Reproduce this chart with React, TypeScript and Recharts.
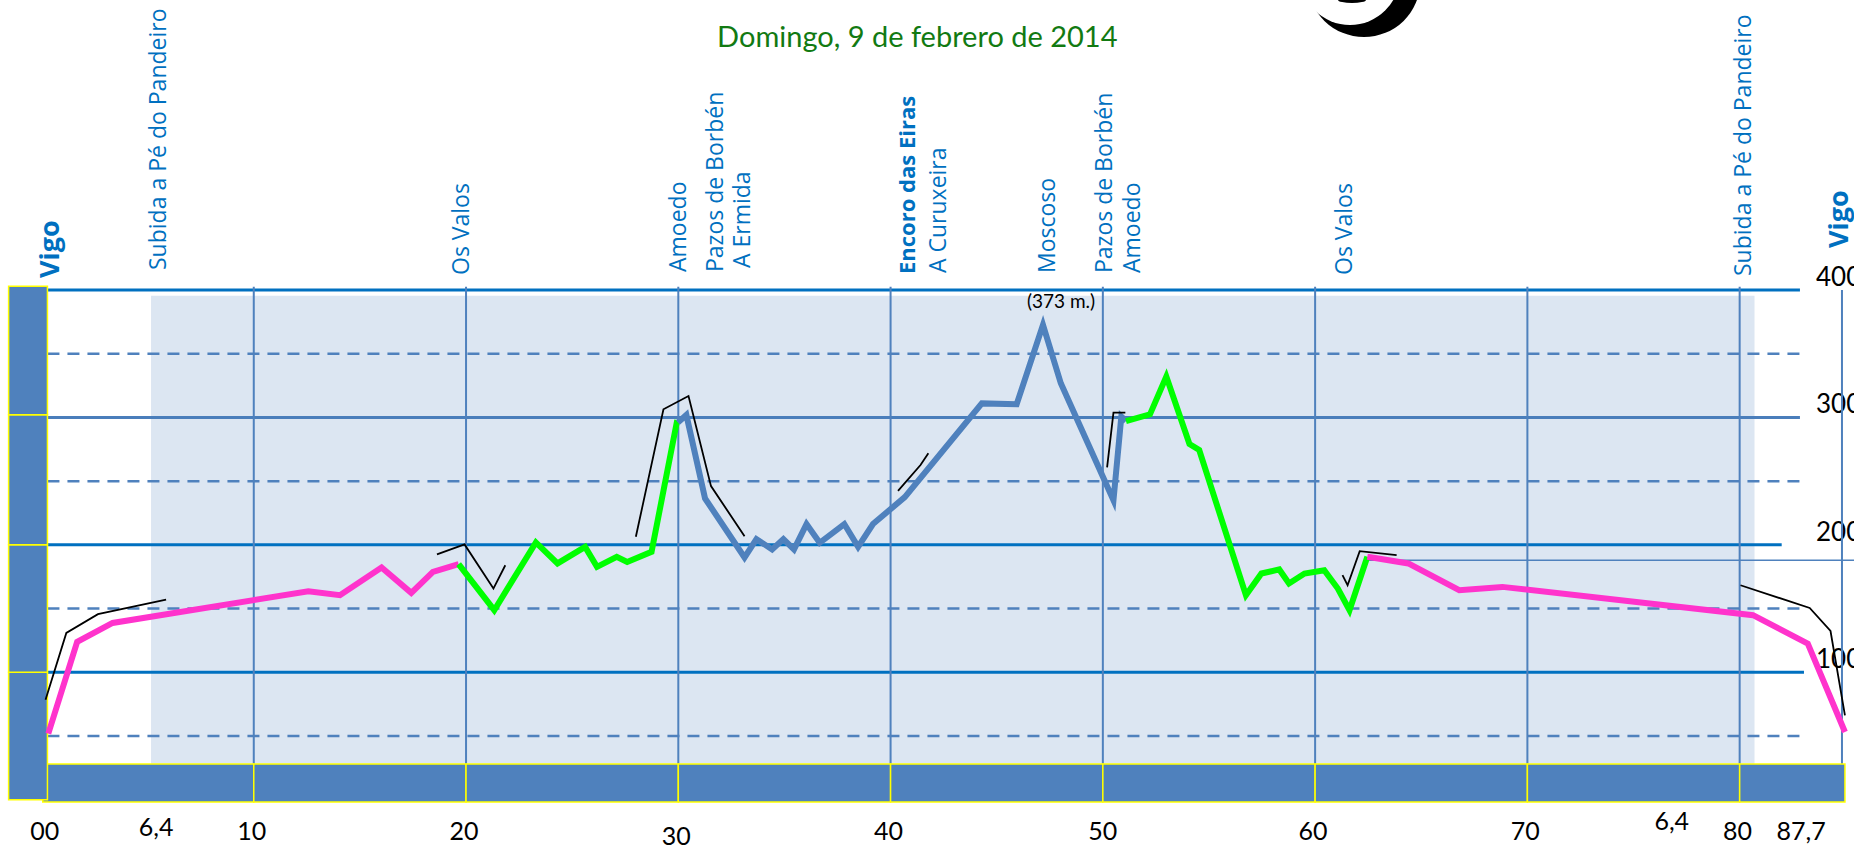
import React from 'react';
import { ComposedChart, Line, XAxis, YAxis, ReferenceLine, ReferenceArea, ReferenceDot } from 'recharts';

type P = { km: number; m: number };

// ---------- data ----------
const PINK_START: P[] = [
  { km: 0.32, m: 51.8 }, { km: 1.68, m: 123.8 }, { km: 3.35, m: 138.7 }, { km: 12.57, m: 163.6 },
  { km: 14.06, m: 160.5 }, { km: 16.02, m: 182.2 }, { km: 17.42, m: 162.3 }, { km: 18.44, m: 178.8 },
  { km: 19.65, m: 184.8 },
];
const GREEN_OUT: P[] = [
  { km: 19.65, m: 184.8 }, { km: 21.33, m: 148.7 }, { km: 23.29, m: 201.9 }, { km: 24.31, m: 185.4 },
  { km: 25.61, m: 198.4 }, { km: 26.17, m: 182.7 }, { km: 27.1, m: 190.6 }, { km: 27.59, m: 186.6 },
  { km: 28.74, m: 194.5 }, { km: 29.95, m: 298 },
];
const BLUE_MID: P[] = [
  { km: 29.98, m: 296 }, { km: 30.38, m: 301.9 }, { km: 31.26, m: 236.4 }, { km: 33.12, m: 190.1 },
  { km: 33.68, m: 204.5 }, { km: 34.42, m: 196.4 }, { km: 34.95, m: 204.5 }, { km: 35.45, m: 196.4 },
  { km: 36.04, m: 216.3 }, { km: 36.66, m: 201.6 }, { km: 37.82, m: 216.3 }, { km: 38.47, m: 198.4 },
  { km: 39.17, m: 216.3 }, { km: 40.67, m: 237.5 }, { km: 44.3, m: 311 }, { km: 45.94, m: 310.3 },
  { km: 47.18, m: 372.6 }, { km: 48.02, m: 326.8 }, { km: 50.5, m: 235 }, { km: 50.87, m: 300.6 },
  { km: 51.09, m: 297 },
];
const GREEN_BACK: P[] = [
  { km: 51.09, m: 297 }, { km: 52.22, m: 302.4 }, { km: 52.99, m: 332 }, { km: 54.08, m: 279.1 },
  { km: 54.54, m: 274.4 }, { km: 56.74, m: 160.5 }, { km: 57.47, m: 177.5 }, { km: 58.31, m: 180.7 },
  { km: 58.77, m: 169.7 }, { km: 59.5, m: 177.5 }, { km: 60.43, m: 180.1 }, { km: 61.07, m: 165.7 },
  { km: 61.62, m: 148.7 }, { km: 62.46, m: 190.6 },
];
const PINK_END: P[] = [
  { km: 62.46, m: 190.6 }, { km: 64.39, m: 185.4 }, { km: 66.79, m: 164.4 }, { km: 68.82, m: 167 },
  { km: 80.63, m: 144.8 }, { km: 83.21, m: 122.5 }, { km: 84.96, m: 53.1 },
];

const BLACK_1: P[] = [{ km: 0.19, m: 78.5 }, { km: 1.17, m: 130.9 }, { km: 2.66, m: 145.6 }, { km: 5.87, m: 157.1 }];
const BLACK_2: P[] = [{ km: 18.63, m: 192.5 }, { km: 19.93, m: 200.3 }, { km: 21.29, m: 165.7 }, { km: 21.85, m: 184 }];
const BLACK_3: P[] = [{ km: 28.0, m: 206.3 }, { km: 29.3, m: 306.4 }, { km: 30.48, m: 316.8 }, { km: 31.54, m: 246.1 }, { km: 33.12, m: 206.8 }];
const BLACK_4: P[] = [{ km: 40.35, m: 242.4 }, { km: 41.41, m: 262.6 }, { km: 41.78, m: 271.8 }];
const BLACK_5: P[] = [{ km: 50.2, m: 260.8 }, { km: 50.5, m: 303.7 }, { km: 51.06, m: 303.7 }];
const BLACK_6: P[] = [{ km: 61.29, m: 176.2 }, { km: 61.53, m: 168.3 }, { km: 62.1, m: 195 }, { km: 63.84, m: 191.9 }];
const BLACK_7: P[] = [{ km: 80.04, m: 168.3 }, { km: 83.3, m: 150.5 }, { km: 84.28, m: 132.4 }, { km: 84.96, m: 66.2 }];

const X_TICKS = [0.15, 5.4, 9.9, 19.9, 29.9, 39.9, 50, 59.9, 69.9, 76.8, 79.9, 82.9];
const X_LABELS = ['00', '6,4', '10', '20', '30', '40', '50', '60', '70', '6,4', '80', '87,7'];
const Y_SOLID = [400, 300, 200, 100];
const Y_DASHED = [350, 250, 150, 50];
const KM_GRID = [10, 20, 30, 40, 50, 60, 70, 80];
const BAR_EDGES = [0.06, 10, 20, 30, 40, 50, 60, 70, 80, 84.96];
const LEFT_BAR_EDGES = [0, 100, 200, 302, 403];

const PLACE_NAMES = ['Vigo', 'Subida a Pé do Pandeiro', 'Os Valos', 'Amoedo', 'Pazos de Borbén', 'A Ermida',
  'Encoro das Eiras', 'A Curuxeira', 'Moscoso', 'Pazos de Borbén', 'Amoedo', 'Os Valos', 'Subida a Pé do Pandeiro', 'Vigo'];
const PLACE_KM = [0.84, 5.87, 20.12, 30.38, 32.1, 33.4, 41.13, 42.62, 47.75, 50.45, 51.75, 61.72, 80.53, 85.1];
const TITLE = 'Domingo, 9 de febrero de 2014';
const PEAK_LABEL = '(373 m.)';

// ---------- layout ----------
const W = 1854, H = 846;
const X_MIN = -1.7, X_MAX = 85.2, Y_MIN = -3, Y_MAX = 405;
const PX_X0 = 41.5, PX_PER_KM = 21.227, PX_Y0 = 799.7, PX_PER_M = 1.2743;
const mLeft = PX_X0 + PX_PER_KM * X_MIN;
const mRight = W - (PX_X0 + PX_PER_KM * X_MAX);
const mTop = PX_Y0 - PX_PER_M * Y_MAX;
const plotBottom = PX_Y0 - PX_PER_M * Y_MIN;
const xAxisH = H - plotBottom;

const PINK = '#FF33CC', GREEN = '#00FF00', BLUE = '#4F81BD', STRONG = '#0070C0', YELLOW = '#FFFF00';
const LABEL_FONT = "'Open Sans', sans-serif";
const NUM_FONT = "Lato, sans-serif";

const PLACE_START_Y = [278, 270, 275, 272, 272, 268, 274, 273, 273, 273, 273, 275, 276, 248];

const placeLabel = (i: number) => (props: any) => {
  const vb = props.viewBox || {};
  const x = vb.x;
  const y = PLACE_START_Y[i];
  const name = PLACE_NAMES[i];
  const bold = name === 'Vigo' || name === 'Encoro das Eiras';
  const size = name === 'Vigo' ? 27 : bold ? 22 : 23;
  return (
    <text x={x} y={y} transform={`rotate(-90 ${x} ${y})`} fill={STRONG} fontFamily={LABEL_FONT}
      fontSize={size} fontWeight={bold ? 700 : 400}>{name}</text>
  );
};

const titleLabel = (props: any) => {
  const vb = props.viewBox || {};
  return (
    <g>
      <ellipse cx={1364} cy={-18} rx={56} ry={55} fill="#000" />
      <ellipse cx={1350} cy={-25} rx={50} ry={50} fill="#fff" />
      <ellipse cx={1352} cy={0} rx={14} ry={3} fill="#000" />
      <text x={vb.x} y={46.7} textAnchor="middle" fill="#127A12" fontFamily={NUM_FONT} fontSize={29}>{TITLE}</text>
    </g>
  );
};

const peakLabel = (props: any) => {
  const vb = props.viewBox || {};
  return <text x={vb.x} y={vb.y} textAnchor="middle" fill="#000" fontFamily={NUM_FONT} fontSize={19}>{PEAK_LABEL}</text>;
};

const yValueLabel = (v: number) => (props: any) => {
  const vb = props.viewBox || {};
  return <text x={1816} y={vb.y - 4} fill="#000" fontFamily={NUM_FONT} fontSize={26}>{v}</text>;
};

const XTick = (props: any) => {
  const { x, payload } = props;
  const i = X_TICKS.indexOf(payload.value);
  const shift = i === 1 ? -4 : i === 4 ? 5 : i === 9 ? -10 : 0;
  return <text x={x} y={840 + shift} textAnchor="middle" fontFamily={NUM_FONT} fontSize={25} fill="#000">{X_LABELS[i]}</text>;
};

const GRID_END: Record<number, number> = { 400: 82.84, 300: 82.84, 200: 81.98, 100: 83.03, 350: 82.84, 250: 82.93, 150: 82.84, 50: 83.03 };

const SERIES = [
  { key: 'pink1', data: PINK_START, color: PINK, width: 6 },
  { key: 'green1', data: GREEN_OUT, color: GREEN, width: 6 },
  { key: 'blue', data: BLUE_MID, color: BLUE, width: 6 },
  { key: 'green2', data: GREEN_BACK, color: GREEN, width: 6 },
  { key: 'pink2', data: PINK_END, color: PINK, width: 6 },
  { key: 'b1', data: BLACK_1, color: '#000', width: 1.8 },
  { key: 'b2', data: BLACK_2, color: '#000', width: 1.8 },
  { key: 'b3', data: BLACK_3, color: '#000', width: 1.8 },
  { key: 'b4', data: BLACK_4, color: '#000', width: 1.8 },
  { key: 'b5', data: BLACK_5, color: '#000', width: 1.8 },
  { key: 'b6', data: BLACK_6, color: '#000', width: 1.8 },
  { key: 'b7', data: BLACK_7, color: '#000', width: 1.8 },
];

export default function App() {
  return (
    <div style={{ position: 'absolute', left: 0, top: 0, width: W, height: H, background: '#fff' }}>
      <ComposedChart width={W} height={H} margin={{ top: mTop, right: mRight, bottom: 0, left: mLeft }}>
        <XAxis type="number" dataKey="km" domain={[X_MIN, X_MAX]} allowDataOverflow ticks={X_TICKS} interval={0}
          tick={XTick} axisLine={false} tickLine={false} height={xAxisH} />
        <YAxis hide type="number" domain={[Y_MIN, Y_MAX]} allowDataOverflow />

        <ReferenceArea x1={5.16} x2={80.7} y1={28} y2={395.5} fill="#DCE6F2" fillOpacity={1} stroke="none" zIndex={-40} />

        {Y_DASHED.map((v) => (
          <ReferenceLine key={'d' + v} segment={[{ x: 0.28, y: v }, { x: GRID_END[v], y: v }]} stroke={BLUE}
            strokeWidth={2.5} strokeDasharray="12 8" zIndex={-30} />
        ))}
        {Y_SOLID.map((v) => (
          <ReferenceLine key={'s' + v} segment={[{ x: 0.28, y: v }, { x: GRID_END[v], y: v }]}
            stroke={v === 300 ? '#4A7EBB' : STRONG} strokeWidth={3} zIndex={-30} label={yValueLabel(v)} />
        ))}
        {KM_GRID.map((k) => (
          <ReferenceLine key={'v' + k} segment={[{ x: k, y: -1.8 }, { x: k, y: 402.6 }]} stroke={BLUE} strokeWidth={2} zIndex={-25} />
        ))}
        <ReferenceLine segment={[{ x: 84.82, y: 0 }, { x: 84.82, y: 400 }]} stroke={BLUE} strokeWidth={2} zIndex={-25} />
        <ReferenceLine segment={[{ x: 62.54, y: 188 }, { x: 86, y: 188 }]} ifOverflow="visible" stroke={BLUE} strokeWidth={1.5} zIndex={-25} />

        {BAR_EDGES.slice(0, -1).map((e, i) => (
          <ReferenceArea key={'bar' + i} x1={e} x2={BAR_EDGES[i + 1]} y1={-1.8} y2={28} fill={BLUE} fillOpacity={1}
            stroke={YELLOW} strokeWidth={1.5} zIndex={-20} />
        ))}
        {LEFT_BAR_EDGES.slice(0, -1).map((e, i) => (
          <ReferenceArea key={'lb' + i} x1={-1.55} x2={0.28} y1={e} y2={LEFT_BAR_EDGES[i + 1]} fill={BLUE} fillOpacity={1}
            stroke={YELLOW} strokeWidth={1.5} zIndex={-20} />
        ))}

        {SERIES.map((s) => (
          <Line key={s.key} data={s.data} dataKey="m" type="linear" stroke={s.color} strokeWidth={s.width}
            dot={false} activeDot={false} isAnimationActive={false} legendType="none" />
        ))}

        {PLACE_KM.map((k, i) => (
          <ReferenceLine key={'p' + i} x={k} stroke="none" ifOverflow="visible" label={placeLabel(i)} />
        ))}
        <ReferenceLine x={41.26} stroke="none" ifOverflow="visible" label={titleLabel} />
        <ReferenceDot x={48.03} y={385.9} r={0} fill="none" stroke="none" ifOverflow="visible" label={peakLabel} />
      </ComposedChart>
    </div>
  );
}
